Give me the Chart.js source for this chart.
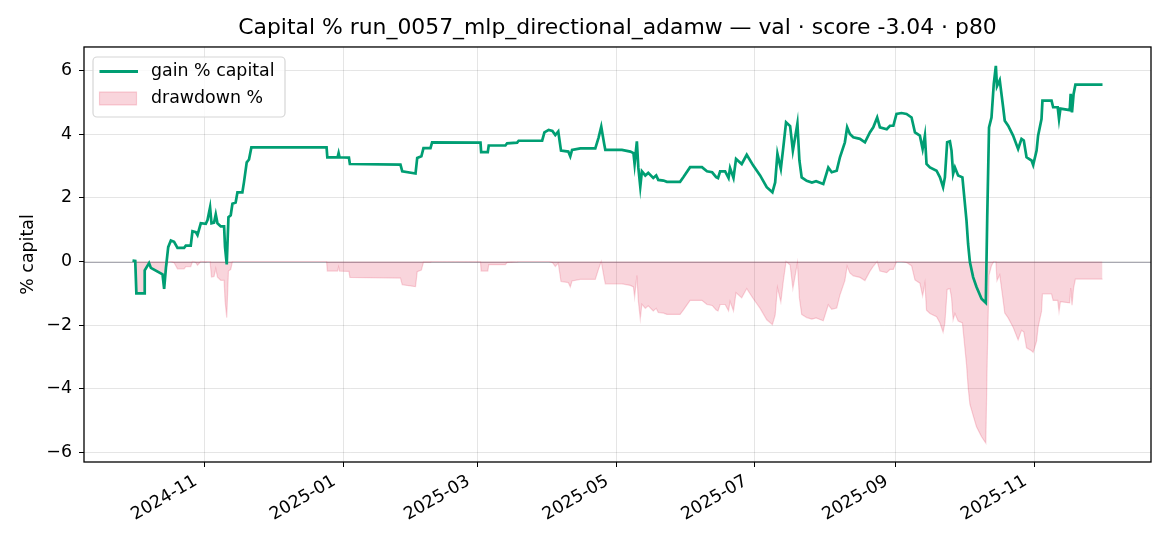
<!DOCTYPE html>
<html lang="en">
<head>
<meta charset="UTF-8">
<title>Capital % run_0057_mlp_directional_adamw</title>
<script src="https://cdn.jsdelivr.net/npm/chart.js@4.4.1/dist/chart.umd.min.js"></script>
<style>
    html, body { margin: 0; padding: 0; background: #fff; }
    #wrap { width: 1170px; height: 546px; }
</style>
</head>
<body>
<div id="wrap"><canvas id="capChart" width="1170" height="546"></canvas></div>
<script>
// timestamps (UTC, hour resolution)
const dates = [
    '2024-09-30T05', '2024-10-01T10', '2024-10-01T22', '2024-10-05T08', '2024-10-05T14', '2024-10-07T12',
    '2024-10-08T07', '2024-10-13T10', '2024-10-14T03', '2024-10-14T22', '2024-10-15T22', '2024-10-17T02',
    '2024-10-18T12', '2024-10-20T00', '2024-10-22T22', '2024-10-23T16', '2024-10-25T20', '2024-10-26T14',
    '2024-10-28T01', '2024-10-28T19', '2024-10-30T06', '2024-11-01T11', '2024-11-02T05', '2024-11-03T08',
    '2024-11-03T23', '2024-11-05T02', '2024-11-05T20', '2024-11-06T14', '2024-11-08T01', '2024-11-09T12',
    '2024-11-09T22', '2024-11-10T16', '2024-11-11T10', '2024-11-12T10', '2024-11-13T04', '2024-11-14T14',
    '2024-11-15T09', '2024-11-17T13', '2024-11-18T06', '2024-11-19T11', '2024-11-20T11', '2024-11-21T12',
    '2024-12-24T14', '2024-12-24T22', '2024-12-29T10', '2024-12-29T21', '2024-12-30T07', '2025-01-03T10',
    '2025-01-03T20', '2025-01-26T02', '2025-01-26T21', '2025-02-01T17', '2025-02-02T11', '2025-02-04T07',
    '2025-02-05T05', '2025-02-08T07', '2025-02-09T00', '2025-03-02T07', '2025-03-02T14', '2025-03-05T12',
    '2025-03-05T22', '2025-03-13T06', '2025-03-14T00', '2025-03-18T10', '2025-03-19T02', '2025-03-29T10',
    '2025-03-30T10', '2025-04-01T07', '2025-04-02T22', '2025-04-04T05', '2025-04-05T12', '2025-04-06T17',
    '2025-04-09T22', '2025-04-10T19', '2025-04-11T14', '2025-04-15T05', '2025-04-21T19', '2025-04-23T05',
    '2025-04-24T10', '2025-04-25T17', '2025-04-26T05', '2025-05-03T12', '2025-05-07T05', '2025-05-08T14',
    '2025-05-09T02', '2025-05-10T02', '2025-05-10T17', '2025-05-11T14', '2025-05-12T07', '2025-05-13T19',
    '2025-05-15T02', '2025-05-17T07', '2025-05-18T14', '2025-05-19T12', '2025-05-21T19', '2025-05-23T07',
    '2025-05-29T02', '2025-05-30T14', '2025-06-02T12', '2025-06-07T17', '2025-06-09T22', '2025-06-12T05',
    '2025-06-13T23', '2025-06-14T19', '2025-06-15T17', '2025-06-17T22', '2025-06-19T10', '2025-06-20T02',
    '2025-06-21T14', '2025-06-22T17', '2025-06-25T05', '2025-06-27T10', '2025-06-30T07', '2025-07-03T07',
    '2025-07-06T05', '2025-07-08T17', '2025-07-09T22', '2025-07-10T22', '2025-07-12T10', '2025-07-13T12',
    '2025-07-14T17', '2025-07-16T12', '2025-07-17T17', '2025-07-18T17', '2025-07-19T17', '2025-07-20T14',
    '2025-07-21T14', '2025-07-23T19', '2025-07-26T02', '2025-07-27T22', '2025-07-31T02', '2025-08-02T07',
    '2025-08-03T19', '2025-08-06T00', '2025-08-07T10', '2025-08-09T14', '2025-08-10T14', '2025-08-11T19',
    '2025-08-13T07', '2025-08-16T05', '2025-08-18T10', '2025-08-20T14', '2025-08-22T02', '2025-08-23T19',
    '2025-08-25T00', '2025-08-28T00', '2025-08-29T10', '2025-08-30T22', '2025-09-01T07', '2025-09-03T12',
    '2025-09-05T17', '2025-09-07T22', '2025-09-09T10', '2025-09-11T14', '2025-09-12T19', '2025-09-13T19',
    '2025-09-14T12', '2025-09-16T00', '2025-09-18T22', '2025-09-20T10', '2025-09-21T19', '2025-09-22T14',
    '2025-09-23T14', '2025-09-24T19', '2025-09-25T12', '2025-09-26T05', '2025-09-27T00', '2025-09-28T10',
    '2025-09-30T07', '2025-10-02T02', '2025-10-02T19', '2025-10-03T14', '2025-10-05T00', '2025-10-06T12',
    '2025-10-08T17', '2025-10-10T14', '2025-10-11T05', '2025-10-12T00', '2025-10-13T02', '2025-10-14T02',
    '2025-10-15T00', '2025-10-15T12', '2025-10-16T17', '2025-10-18T05', '2025-10-18T22', '2025-10-20T10',
    '2025-10-22T14', '2025-10-24T19', '2025-10-26T07', '2025-10-27T07', '2025-10-28T12', '2025-10-30T17',
    '2025-10-31T10', '2025-11-01T22', '2025-11-02T14', '2025-11-04T02', '2025-11-04T12', '2025-11-08T12',
    '2025-11-09T05', '2025-11-11T05', '2025-11-11T19', '2025-11-12T10', '2025-11-16T12', '2025-11-16T22',
    '2025-11-17T12', '2025-11-18T05', '2025-11-19T00', '2025-11-30T22'
];

const gainPct = [
    0.03, 0.02, -1.00, -1.00, -0.28, -0.05,
    -0.20, -0.40, -0.86, -0.20, 0.45, 0.66,
    0.62, 0.43, 0.43, 0.50, 0.50, 0.95,
    0.92, 0.83, 1.20, 1.18, 1.30, 1.70,
    1.20, 1.22, 1.48, 1.20, 1.10, 1.10,
    0.45, -0.09, 1.39, 1.45, 1.81, 1.85,
    2.17, 2.17, 2.49, 3.11, 3.20, 3.58,
    3.58, 3.27, 3.27, 3.40, 3.27, 3.26,
    3.06, 3.04, 2.83, 2.76, 3.25, 3.30,
    3.56, 3.56, 3.74, 3.73, 3.43, 3.43,
    3.64, 3.64, 3.71, 3.73, 3.79, 3.79,
    4.05, 4.13, 4.10, 3.97, 4.08, 3.48,
    3.45, 3.30, 3.50, 3.55, 3.55, 3.88,
    4.23, 3.69, 3.50, 3.50, 3.45, 3.40,
    3.06, 3.77, 2.96, 2.35, 2.83, 2.70,
    2.78, 2.62, 2.70, 2.56, 2.54, 2.50,
    2.50, 2.65, 2.96, 2.96, 2.83, 2.80,
    2.65, 2.62, 2.83, 2.83, 2.62, 2.93,
    2.62, 3.22, 3.06, 3.35, 3.01, 2.70,
    2.33, 2.17, 2.48, 3.38, 2.91, 3.58,
    4.37, 4.25, 3.48, 3.90, 4.33, 3.17,
    2.64, 2.53, 2.48, 2.52, 2.43, 2.95,
    2.80, 2.85, 3.27, 3.74, 4.21, 4.00,
    3.90, 3.85, 3.74, 4.05, 4.21, 4.52,
    4.21, 4.15, 4.26, 4.26, 4.63, 4.66,
    4.63, 4.52, 4.05, 3.95, 3.53, 3.95,
    3.06, 2.95, 2.85, 2.64, 2.33, 2.64,
    3.74, 3.77, 3.48, 2.75, 2.95, 2.70,
    2.64, 1.29, 0.55, -0.02, -0.49, -0.80,
    -1.17, -1.30, 1.39, 4.21, 4.52, 5.57,
    6.14, 5.50, 5.69, 4.84, 4.42, 4.26,
    3.95, 3.53, 3.85, 3.80, 3.27, 3.17,
    3.03, 3.48, 3.95, 4.47, 5.05, 5.05,
    4.84, 4.84, 4.47, 4.80, 4.75, 5.26,
    4.68, 5.26, 5.55, 5.55
];

const drawdownPct = [
    0, 0, -1.00, -1.00, -0.30, -0.08,
    -0.22, -0.42, -0.88, -0.22, 0, 0,
    -0.04, -0.23, -0.23, -0.16, -0.16, 0,
    -0.03, -0.12, 0, -0.02, 0, 0,
    -0.49, -0.47, -0.22, -0.49, -0.59, -0.59,
    -1.23, -1.76, -0.30, -0.25, 0, 0,
    0, 0, 0, 0, 0, 0,
    0, -0.30, -0.30, -0.17, -0.30, -0.31,
    -0.50, -0.52, -0.73, -0.79, -0.32, -0.27,
    -0.02, -0.02, 0, -0.01, -0.30, -0.30,
    -0.10, -0.10, -0.03, -0.01, 0, 0,
    0, 0, -0.03, -0.16, -0.05, -0.63,
    -0.66, -0.80, -0.61, -0.56, -0.56, -0.24,
    0, -0.52, -0.70, -0.70, -0.75, -0.80,
    -1.12, -0.44, -1.22, -1.80, -1.34, -1.47,
    -1.39, -1.55, -1.47, -1.60, -1.62, -1.66,
    -1.66, -1.52, -1.22, -1.22, -1.35, -1.38,
    -1.52, -1.55, -1.35, -1.35, -1.55, -1.25,
    -1.55, -0.98, -1.14, -0.85, -1.17, -1.47,
    -1.83, -1.98, -1.68, -0.82, -1.27, -0.62,
    0, -0.11, -0.85, -0.45, -0.04, -1.15,
    -1.66, -1.76, -1.81, -1.77, -1.86, -1.36,
    -1.50, -1.46, -1.05, -0.60, -0.15, -0.36,
    -0.45, -0.50, -0.60, -0.31, -0.15, 0,
    -0.30, -0.35, -0.25, -0.25, 0, 0,
    -0.03, -0.13, -0.58, -0.68, -1.08, -0.68,
    -1.53, -1.63, -1.73, -1.93, -2.22, -1.93,
    -0.88, -0.85, -1.13, -1.83, -1.63, -1.87,
    -1.93, -3.22, -3.93, -4.48, -4.83, -5.19,
    -5.50, -5.70, -3.10, -0.43, -0.13, 0,
    0, -0.60, -0.42, -1.22, -1.62, -1.77,
    -2.06, -2.46, -2.16, -2.21, -2.71, -2.80,
    -2.85, -2.50, -2.06, -1.57, -1.02, -1.02,
    -1.22, -1.22, -1.57, -1.26, -1.30, -0.83,
    -1.37, -0.83, -0.55, -0.55
];

const xTickLabels = ['2024-11', '2025-01', '2025-03', '2025-05', '2025-07', '2025-09', '2025-11'];
const yTicks = [-6, -4, -2, 0, 2, 4, 6];

const DAY = 86400000;
const toDay = s => Date.parse(s + ':00:00Z') / DAY;
const xs = dates.map(toDay);

// matplotlib-like 5% margins
const xSpan = xs[xs.length - 1] - xs[0];
const xMin = xs[0] - 0.05 * xSpan;
const xMax = xs[xs.length - 1] + 0.05 * xSpan;
const yLo = Math.min(...gainPct, ...drawdownPct);
const yHi = Math.max(...gainPct, ...drawdownPct);
const yMin = yLo - 0.05 * (yHi - yLo);
const yMax = yHi + 0.05 * (yHi - yLo);

const GREEN = '#009e73';
const PINK = 'rgba(220, 20, 60, 0.18)';
const FONT = 'DejaVu Sans';

Chart.defaults.font.family = FONT;
Chart.defaults.color = '#000';

const framePlugin = {
    id: 'frame',
    beforeDatasetsDraw(chart) {
        const {ctx, chartArea: a, scales: {y}} = chart;
        const y0 = Math.round(y.getPixelForValue(0)) + 0.5;
        ctx.save();
        ctx.strokeStyle = 'rgba(110, 110, 125, 0.6)';
        ctx.lineWidth = 1.1;
        ctx.beginPath();
        ctx.moveTo(a.left, y0);
        ctx.lineTo(a.right, y0);
        ctx.stroke();
        ctx.restore();
    },
    afterDatasetsDraw(chart) {
        const {ctx, chartArea: a} = chart;
        ctx.save();
        // spines
        ctx.strokeStyle = '#000';
        ctx.lineWidth = 1.3;
        ctx.strokeRect(a.left, a.top, a.right - a.left, a.bottom - a.top);

        // legend box, upper left
        const lx = a.left + 9, ly = a.top + 10, lw = 192, lh = 60;
        ctx.beginPath();
        ctx.roundRect(lx, ly, lw, lh, 4);
        ctx.fillStyle = 'rgba(255, 255, 255, 0.8)';
        ctx.fill();
        ctx.strokeStyle = '#d6d6d6';
        ctx.lineWidth = 1.2;
        ctx.stroke();

        ctx.strokeStyle = GREEN;
        ctx.lineWidth = 2.8;
        ctx.beginPath();
        ctx.moveTo(lx + 6.5, ly + 14.5);
        ctx.lineTo(lx + 45, ly + 14.5);
        ctx.stroke();

        ctx.fillStyle = PINK;
        ctx.fillRect(lx + 6.5, ly + 35, 37, 13);
        ctx.strokeStyle = PINK;
        ctx.lineWidth = 1.2;
        ctx.strokeRect(lx + 6.5, ly + 35, 37, 13);

        ctx.fillStyle = '#000';
        ctx.font = '17.4px "' + FONT + '"';
        ctx.textBaseline = 'middle';
        ctx.textAlign = 'left';
        ctx.fillText('gain % capital', lx + 58, ly + 14.5);
        ctx.fillText('drawdown %', lx + 58, ly + 42);
        ctx.restore();
    }
};

new Chart(document.getElementById('capChart'), {
    type: 'line',
    data: {
        datasets: [
            {
                label: 'gain % capital',
                data: xs.map((x, i) => ({x: x, y: gainPct[i]})),
                borderColor: GREEN,
                borderWidth: 2.7,
                pointRadius: 0,
                tension: 0,
                fill: false
            },
            {
                label: 'drawdown %',
                data: xs.map((x, i) => ({x: x, y: drawdownPct[i]})),
                borderColor: PINK,
                backgroundColor: PINK,
                borderWidth: 1.2,
                pointRadius: 0,
                tension: 0,
                fill: 'origin'
            }
        ]
    },
    options: {
        responsive: false,
        animation: false,
        devicePixelRatio: 1,
        layout: { padding: { left: 0, right: 19, top: 0, bottom: 0 } },
        plugins: {
            legend: { display: false },
            tooltip: { enabled: false },
            title: {
                display: true,
                fullSize: false,
                text: 'Capital % run_0057_mlp_directional_adamw \u2014 val \u00b7 score -3.04 \u00b7 p80',
                color: '#000',
                font: { size: 21.9, weight: 'normal', family: FONT },
                padding: { top: 15, bottom: 5.7 }
            }
        },
        scales: {
            x: {
                type: 'linear',
                min: xMin,
                max: xMax,
                border: { display: false },
                grid: { color: 'rgba(0,0,0,0.1)', lineWidth: 1, tickColor: '#000', tickLength: 5 },
                ticks: {
                    autoSkip: false,
                    minRotation: 30,
                    maxRotation: 30,
                    padding: 4,
                    labelOffset: -9,
                    font: { size: 17.4 },
                    callback: v => new Date(v * DAY).toISOString().slice(0, 7)
                },
                afterBuildTicks: s => { s.ticks = xTickLabels.map(l => ({value: toDay(l + '-01T00')})); },
                afterFit: s => { s.height = 84; }
            },
            y: {
                min: yMin,
                max: yMax,
                border: { display: false },
                grid: { color: 'rgba(0,0,0,0.1)', lineWidth: 1, tickColor: '#000', tickLength: 5 },
                ticks: {
                    padding: 7,
                    font: { size: 17.4 },
                    callback: v => (v < 0 ? '\u2212' + Math.abs(v) : String(v))
                },
                afterBuildTicks: s => { s.ticks = yTicks.map(v => ({value: v})); },
                afterFit: s => { s.width = 84; },
                title: {
                    display: true,
                    text: '% capital',
                    font: { size: 17.4 },
                    padding: { top: 18, bottom: 0 }
                }
            }
        }
    },
    plugins: [framePlugin]
});
</script>
</body>
</html>
